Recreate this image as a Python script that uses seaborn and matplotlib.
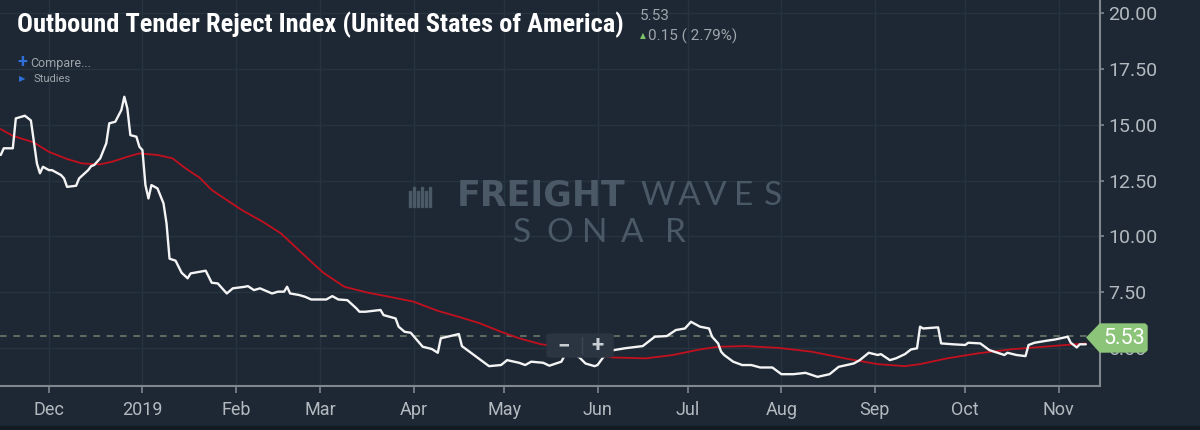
import matplotlib
matplotlib.use("Agg")
import matplotlib.pyplot as plt
from matplotlib import font_manager
from matplotlib.patches import Polygon, FancyBboxPatch, Rectangle
import seaborn as sns
import pandas as pd

# ---------------- data ----------------
otri_dates = [
    "2018-11-15", "2018-11-16", "2018-11-19", "2018-11-20", "2018-11-23", "2018-11-25",
    "2018-11-27", "2018-11-28", "2018-11-29", "2018-12-01", "2018-12-02", "2018-12-05",
    "2018-12-06", "2018-12-07", "2018-12-10", "2018-12-11", "2018-12-14", "2018-12-15",
    "2018-12-16", "2018-12-18", "2018-12-20", "2018-12-21", "2018-12-23", "2018-12-25",
    "2018-12-26", "2018-12-27", "2018-12-28", "2018-12-30", "2018-12-31", "2019-01-01",
    "2019-01-02", "2019-01-03", "2019-01-04", "2019-01-06", "2019-01-08", "2019-01-09",
    "2019-01-10", "2019-01-12", "2019-01-14", "2019-01-16", "2019-01-17", "2019-01-22",
    "2019-01-24", "2019-01-26", "2019-01-29", "2019-01-31", "2019-02-04", "2019-02-05",
    "2019-02-07", "2019-02-09", "2019-02-13", "2019-02-15", "2019-02-17", "2019-02-18",
    "2019-02-19", "2019-02-22", "2019-02-24", "2019-02-26", "2019-03-03", "2019-03-05",
    "2019-03-07", "2019-03-10", "2019-03-13", "2019-03-14", "2019-03-16", "2019-03-21",
    "2019-03-22", "2019-03-26", "2019-03-27", "2019-03-29", "2019-03-31", "2019-04-04",
    "2019-04-07", "2019-04-09", "2019-04-10", "2019-04-16", "2019-04-17", "2019-04-20",
    "2019-04-26", "2019-04-30", "2019-05-02", "2019-05-06", "2019-05-08", "2019-05-10",
    "2019-05-14", "2019-05-16", "2019-05-20", "2019-05-22", "2019-05-26", "2019-05-28",
    "2019-05-31", "2019-06-01", "2019-06-03", "2019-06-06", "2019-06-10", "2019-06-16",
    "2019-06-20", "2019-06-24", "2019-06-27", "2019-06-30", "2019-07-02", "2019-07-05",
    "2019-07-08", "2019-07-09", "2019-07-11", "2019-07-12", "2019-07-13", "2019-07-16",
    "2019-07-19", "2019-07-22", "2019-07-25", "2019-07-29", "2019-08-01", "2019-08-05",
    "2019-08-09", "2019-08-13", "2019-08-17", "2019-08-20", "2019-08-25", "2019-08-27",
    "2019-08-30", "2019-09-02", "2019-09-03", "2019-09-06", "2019-09-08", "2019-09-11",
    "2019-09-13", "2019-09-15", "2019-09-16", "2019-09-17", "2019-09-22", "2019-09-23",
    "2019-09-27", "2019-10-01", "2019-10-02", "2019-10-06", "2019-10-09", "2019-10-14",
    "2019-10-15", "2019-10-18", "2019-10-21", "2019-10-22", "2019-10-24", "2019-10-28",
    "2019-10-31", "2019-11-04", "2019-11-05", "2019-11-07", "2019-11-08", "2019-11-10",
]
otri_values = [
    13.65, 13.95, 13.95, 15.29, 15.41, 15.20,
    13.27, 12.83, 13.12, 12.97, 12.97, 12.75,
    12.60, 12.22, 12.27, 12.60, 12.97, 13.15,
    13.20, 13.50, 14.17, 15.07, 15.14, 15.66,
    16.26, 15.74, 14.54, 14.47, 14.02, 13.87,
    12.30, 11.70, 12.30, 12.15, 11.48, 10.58,
    9.00, 8.91, 8.37, 8.12, 8.34, 8.46,
    7.92, 7.89, 7.44, 7.67, 7.74, 7.77,
    7.59, 7.67, 7.44, 7.52, 7.52, 7.74,
    7.44, 7.37, 7.29, 7.17, 7.17, 7.32,
    7.17, 7.14, 6.77, 6.62, 6.62, 6.70,
    6.47, 6.32, 5.95, 5.72, 5.68, 5.05,
    4.95, 4.78, 5.43, 5.62, 5.08, 4.78,
    4.18, 4.23, 4.45, 4.33, 4.23, 4.38,
    4.33, 4.20, 4.38, 4.90, 4.57, 4.30,
    4.18, 4.23, 4.60, 4.89, 4.98, 5.08,
    5.50, 5.53, 5.80, 5.87, 6.17, 5.95,
    5.87, 5.50, 5.20, 4.83, 4.68, 4.38,
    4.23, 4.23, 4.12, 4.12, 3.82, 3.82,
    3.88, 3.70, 3.82, 4.15, 4.30, 4.45,
    4.78, 4.68, 4.72, 4.45, 4.53, 4.72,
    4.93, 4.98, 5.95, 5.87, 5.92, 5.20,
    5.16, 5.13, 5.23, 5.20, 4.90, 4.68,
    4.78, 4.68, 4.63, 5.13, 5.23, 5.32,
    5.38, 5.50, 5.23, 5.02, 5.16, 5.16,
]

ma_dates = [
    "2018-11-15", "2018-11-19", "2018-11-26", "2018-12-01", "2018-12-07", "2018-12-12",
    "2018-12-18", "2018-12-22", "2018-12-27", "2018-12-31", "2019-01-06", "2019-01-11",
    "2019-01-15", "2019-01-20", "2019-01-24", "2019-02-03", "2019-02-10", "2019-02-16",
    "2019-02-23", "2019-03-02", "2019-03-09", "2019-03-17", "2019-03-24", "2019-04-01",
    "2019-04-09", "2019-04-16", "2019-04-23", "2019-04-30", "2019-05-06", "2019-05-13",
    "2019-05-15", "2019-05-26", "2019-06-06", "2019-06-17", "2019-06-26", "2019-07-05",
    "2019-07-11", "2019-07-20", "2019-07-31", "2019-08-11", "2019-08-22", "2019-09-02",
    "2019-09-11", "2019-09-16", "2019-09-25", "2019-10-05", "2019-10-16", "2019-10-27",
    "2019-11-10",
]
ma_values = [
    14.81, 14.51, 14.21, 13.79, 13.47, 13.27,
    13.23, 13.35, 13.57, 13.72, 13.65, 13.50,
    13.08, 12.63, 12.08, 11.18, 10.65, 10.13,
    9.24, 8.37, 7.74, 7.47, 7.29, 7.07,
    6.66, 6.39, 6.10, 5.72, 5.43, 5.17,
    5.13, 4.75, 4.57, 4.53, 4.68, 4.93,
    5.05, 5.08, 5.00, 4.83, 4.53, 4.27,
    4.18, 4.27, 4.53, 4.75, 4.93, 5.05,
    5.20,
]

last_value = 5.53
change_text = "0.15 ( 2.79%)"
title_text = "Outbound Tender Reject Index (United States of America)"
y_ticks = [5.00, 7.50, 10.00, 12.50, 15.00, 17.50, 20.00]
month_starts = ["2018-12-01", "2019-01-01", "2019-02-01", "2019-03-01", "2019-04-01",
                "2019-05-01", "2019-06-01", "2019-07-01", "2019-08-01", "2019-09-01",
                "2019-10-01", "2019-11-01"]
month_labels = ["Dec", "2019", "Feb", "Mar", "Apr", "May", "Jun", "Jul", "Aug", "Sep",
                "Oct", "Nov"]

# ---------------- style ----------------
BG = "#1d2834"
GRID = "#27333f"
SPINE = "#80878e"
TICKTXT = "#b3b9bf"
WHITE = "#f4f4f4"
RED = "#c2101e"
GREEN = "#8cc47a"

sns.set_theme(style="dark")
names = {f.name for f in font_manager.fontManager.ttflist}
cond = "Roboto Condensed" if "Roboto Condensed" in names else None
plt.rcParams['font.family'] = ['Roboto', 'DejaVu Sans']

W, H = 1200, 430
fig = plt.figure(figsize=(W / 100, H / 100), dpi=100, facecolor=BG)
ax = fig.add_axes([0, (H - 386) / H, 1100 / W, 386 / H])
ax.set_facecolor(BG)


def px(x, y):
    return (x / W, 1 - y / H)


sns.lineplot(x=pd.to_datetime(ma_dates), y=ma_values, ax=ax, color=RED, lw=1.3, zorder=3)
sns.lineplot(x=pd.to_datetime(otri_dates), y=otri_values, ax=ax, color=WHITE, lw=1.7, zorder=4)
ax.axhline(last_value, color="#6b786c", lw=1.2, ls=(0, (4, 4)), zorder=2)

ax.set_xlim(pd.Timestamp("2018-11-14 18:00"), pd.Timestamp("2019-11-14 17:00"))
ax.set_ylim(3.29, 20.6)

ax.set_xticks(pd.to_datetime(month_starts))
ax.set_xticklabels(month_labels)
ax.set_yticks(y_ticks)
ax.set_yticklabels([f"{v:.2f}" for v in y_ticks])
ax.yaxis.tick_right()
ax.grid(True, color=GRID, lw=1)
ax.set_xlabel("")
ax.set_ylabel("")
for s in ("top", "left"):
    ax.spines[s].set_visible(False)
for s in ("bottom", "right"):
    ax.spines[s].set_visible(True)
    ax.spines[s].set_color(SPINE)
    ax.spines[s].set_linewidth(1.5)
ax.tick_params(axis="x", which="both", bottom=True, direction="out", length=5, width=1.2,
               color=SPINE, labelcolor=TICKTXT, labelsize=13, pad=6)
ax.tick_params(axis="y", which="both", right=True, left=False, labelright=True, labelleft=False,
               direction="out", length=3, width=1.2, color=SPINE, labelcolor=TICKTXT,
               labelsize=14, pad=3)

# bottom dark stripe
fig.patches.append(Rectangle(px(0, 430), 1, 4 / H, transform=fig.transFigure,
                             color="#121a22", zorder=0))

# title block
tfam = [cond, 'Roboto', 'DejaVu Sans'] if cond else ['Roboto', 'DejaVu Sans']
fig.text(*px(17, 25), title_text, color="white", fontsize=19 if cond else 17.0,
         fontweight="bold", va="center", ha="left", family=tfam)
fig.text(*px(640, 16), f"{last_value:.2f}", color="#9ea5ac", fontsize=11, va="center", ha="left")
fig.text(*px(640, 36), "▲", color="#7cc46b", fontsize=5.5, va="center", ha="left",
         family=['DejaVu Sans'])
fig.text(*px(648, 36), change_text, color="#9ea5ac", fontsize=11, va="center", ha="left")
fig.text(*px(17, 62), "+", color="#2e6fd8", fontsize=13, fontweight="bold", va="center", ha="left")
fig.text(*px(30, 63), "Compare...", color="#9ea5ac", fontsize=9, va="center", ha="left")
fig.text(*px(19, 79), "▶", color="#2e6fd8", fontsize=6, va="center", ha="left",
         family=['DejaVu Sans'])
fig.text(*px(34, 79), "Studies", color="#9ea5ac", fontsize=8, va="center", ha="left")

# watermark
WM = "#4b5866"
for i, h in enumerate([16, 20, 16, 20, 16, 20]):
    fig.patches.append(Rectangle(px(409 + i * 4, 207), 2 / W, h / H, transform=fig.transFigure,
                                 color=WM, zorder=1))
fig.text(*px(625, 196), "FREIGHT", color=WM, fontsize=25, fontweight="bold", ha="right",
         va="center", zorder=1, family=['DejaVu Sans'])
for ch, cx in zip("WAVES", [658, 689, 715, 744, 773]):
    fig.text(*px(cx, 196), ch, color=WM, fontsize=24, fontweight="normal", ha="center",
             va="center", zorder=1, family=['Lato', 'Roboto', 'DejaVu Sans'])
for ch, cx in zip("SONAR", [522, 560, 595, 632, 675]):
    fig.text(*px(cx, 233), ch, color=WM, fontsize=24, fontweight="normal",
             ha="center", va="center", zorder=1, family=['Lato', 'Roboto', 'DejaVu Sans'])

# zoom buttons
fig.patches.append(FancyBboxPatch(px(547, 357), 66 / W, 23 / H,
                                  boxstyle="round,pad=0,rounding_size=0.004",
                                  transform=fig.transFigure, color="#2a3541", zorder=5))
fig.lines.append(plt.Line2D([582 / W, 582 / W], [1 - 337 / H, 1 - 354 / H],
                            transform=fig.transFigure, color="#3a4651", lw=1, zorder=6))
fig.text(*px(564, 346), "−", color="#c9ced3", fontsize=16, fontweight="bold", ha="center",
         va="center", zorder=7)
fig.text(*px(597, 346), "+", color="#c9ced3", fontsize=16, fontweight="bold", ha="center",
         va="center", zorder=7)

# last-value label
poly = Polygon([px(1087, 337.5), px(1100, 324), px(1145, 324), px(1147, 326),
                px(1147, 350), px(1145, 352), px(1100, 352)],
               closed=True, transform=fig.transFigure, color=GREEN, zorder=8)
fig.patches.append(poly)
fig.text(*px(1124, 338), f"{last_value:.2f}", color="white", fontsize=15.5, ha="center",
         va="center", zorder=9)

fig.savefig("out.png", dpi=100, facecolor=BG)
